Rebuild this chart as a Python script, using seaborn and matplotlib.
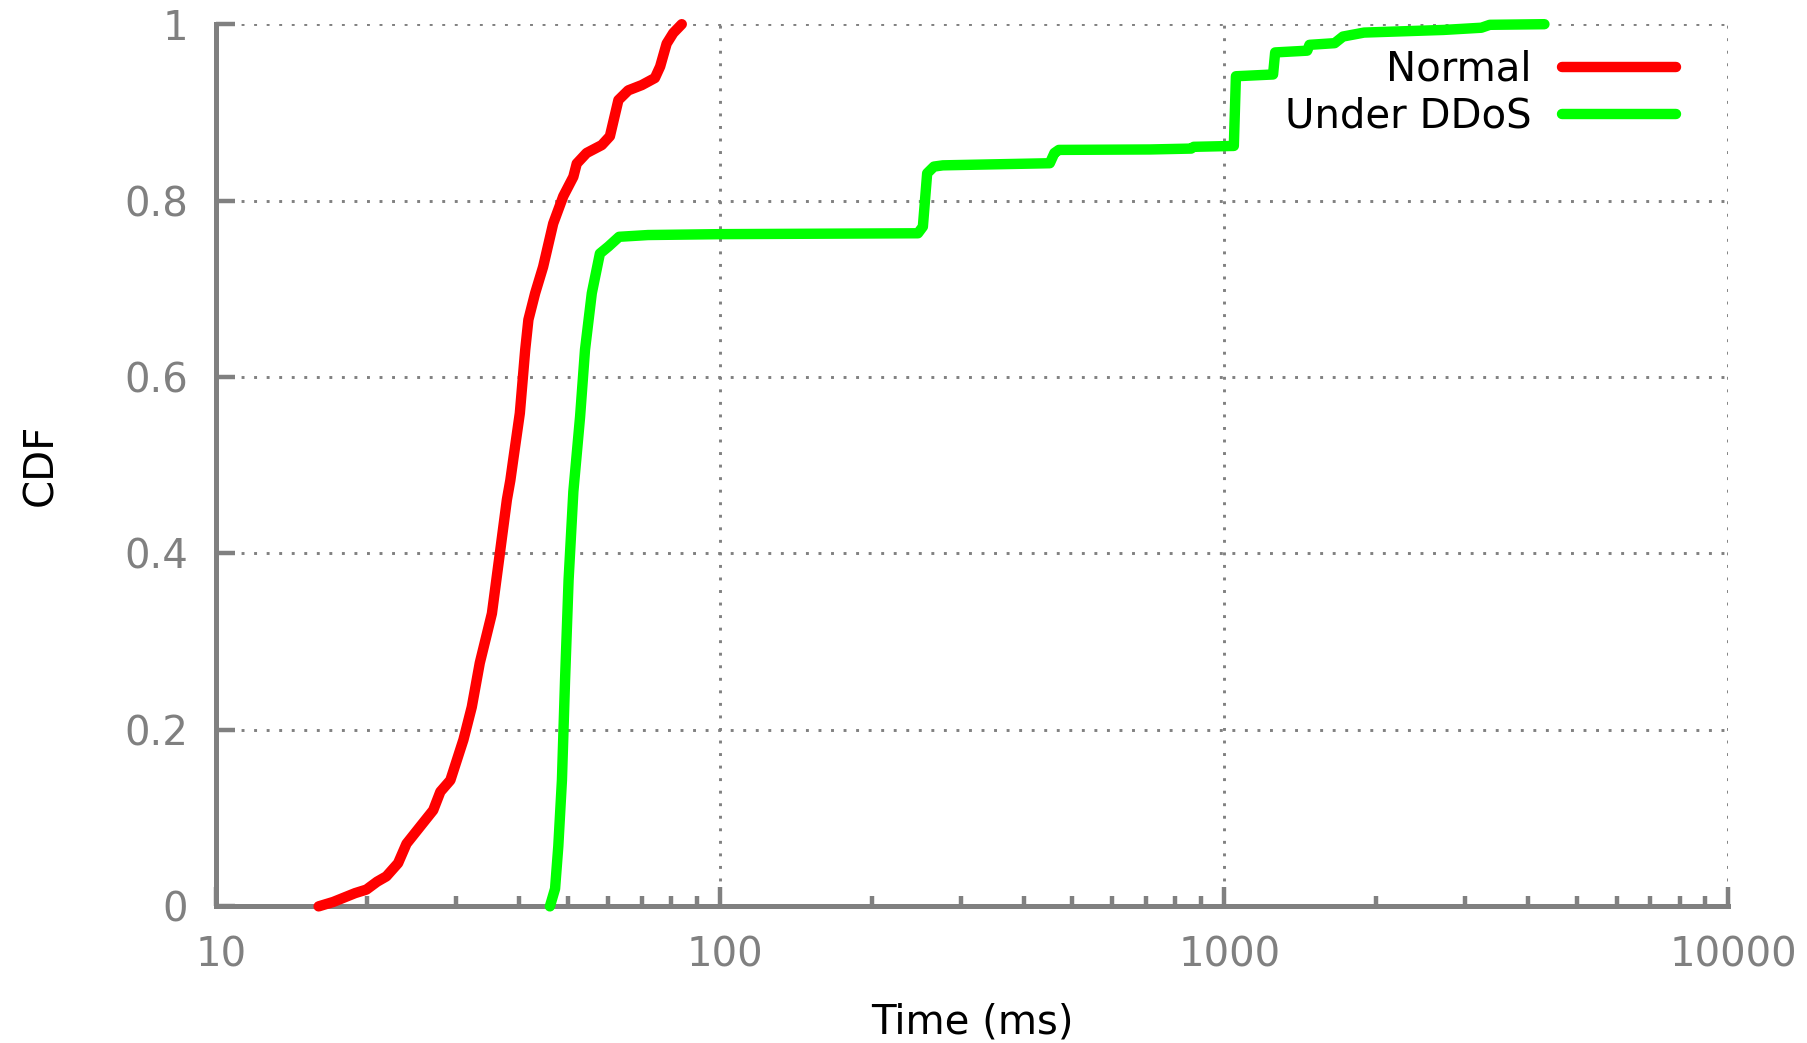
import numpy as np
import pandas as pd
import matplotlib
matplotlib.use("Agg")
import matplotlib.pyplot as plt
import matplotlib.transforms as mtransforms
from matplotlib.ticker import LogLocator, NullFormatter, FixedLocator
import seaborn as sns

# CDF of response time
normal_ms = [16.0, 17.1, 18.9, 19.9, 20.9, 21.8, 23.0, 23.9, 25.4, 27.0, 27.9,
             29.2, 31.0, 32.2, 33.4, 35.3, 36.6, 37.8, 38.4, 38.9, 40.1, 41.1,
             41.7, 43.0, 44.6, 46.7, 48.9, 51.2, 52.0, 54.4, 58.3, 60.5, 62.9,
             65.8, 70.0, 74.3, 76.1, 78.4, 80.8, 84.0]
normal_cdf = [0.0, 0.005, 0.015, 0.019, 0.028, 0.034, 0.049, 0.071, 0.090, 0.109, 0.130,
              0.143, 0.189, 0.226, 0.276, 0.332, 0.400, 0.461, 0.483, 0.506, 0.559, 0.631,
              0.665, 0.695, 0.725, 0.774, 0.805, 0.827, 0.842, 0.854, 0.863, 0.873, 0.914,
              0.925, 0.931, 0.939, 0.952, 0.978, 0.990, 1.0]

ddos_ms = [46.0, 47.1, 47.8, 48.6, 49.3, 50.1, 51.2, 52.8, 54.0, 55.7, 57.8,
           60.1, 63.1, 72.0, 100.0, 247.0, 252.6, 257.6, 265.7, 276.7, 451.0,
           460.6, 470.0, 713.0, 860.0, 870.0, 1045.0, 1055.0, 1250.0, 1262.0,
           1461.0, 1476.0, 1656.0, 1720.0, 1894.0, 2724.0, 3236.0, 3363.0, 4316.0]
ddos_cdf = [0.0, 0.020, 0.068, 0.143, 0.257, 0.370, 0.470, 0.555, 0.631, 0.695, 0.740,
            0.748, 0.759, 0.761, 0.762, 0.763, 0.7705, 0.831, 0.8386, 0.840, 0.8424,
            0.854, 0.8575, 0.858, 0.859, 0.861, 0.862, 0.941, 0.943, 0.968,
            0.970, 0.9766, 0.9785, 0.986, 0.9905, 0.9935, 0.996, 0.9993, 1.0]

series_names = ["Normal", "Under DDoS"]
series_colors = ["#ff0000", "#00ff00"]

x_ticks = [10, 100, 1000, 10000]
x_tick_labels = ["10", "100", "1000", "10000"]
y_ticks = [0, 0.2, 0.4, 0.6, 0.8, 1.0]
y_tick_labels = ["0", "0.2", "0.4", "0.6", "0.8", "1"]

df = pd.concat([
    pd.DataFrame({"time": normal_ms, "cdf": normal_cdf, "kind": series_names[0]}),
    pd.DataFrame({"time": ddos_ms, "cdf": ddos_cdf, "kind": series_names[1]}),
])

sns.set_style("white")
plt.rcParams["font.family"] = ["DejaVu Sans"]

gray = "#808080"
fig, ax = plt.subplots(figsize=(18.08, 10.43), dpi=100)
fig.subplots_adjust(left=0.1193, right=0.956, bottom=0.131, top=0.9768)

sns.lineplot(data=df, x="time", y="cdf", hue="kind", palette=series_colors,
             estimator=None, sort=False, linewidth=7.5, legend=False, ax=ax,
             solid_capstyle="round", solid_joinstyle="round", clip_on=False, zorder=5)

ax.set_xscale("log")
ax.set_xlim(10, 10000)
ax.set_ylim(0, 1)

ax.xaxis.set_major_locator(FixedLocator(x_ticks))
ax.set_xticklabels(x_tick_labels)
ax.xaxis.set_minor_locator(LogLocator(base=10, subs=np.arange(2, 10)))
ax.xaxis.set_minor_formatter(NullFormatter())
ax.set_yticks(y_ticks)
ax.set_yticklabels(y_tick_labels)

ax.tick_params(axis="both", which="both", bottom=True, left=True, top=False, right=False)
ax.tick_params(axis="both", which="major", direction="in", length=13.5, width=3.2,
               color=gray, labelcolor=gray, labelsize=29)
ax.tick_params(axis="x", which="major", pad=21)
ax.tick_params(axis="y", which="major", pad=20)
ax.tick_params(axis="x", which="minor", direction="in", length=7.5, width=3.2, color=gray)

# gnuplot puts the x labels a touch right of the tick
shift = mtransforms.ScaledTranslation(5 / 100, 0, fig.dpi_scale_trans)
for lab in ax.get_xticklabels():
    lab.set_transform(lab.get_transform() + shift)

for side in ["top", "right"]:
    ax.spines[side].set_visible(False)
for side in ["left", "bottom"]:
    ax.spines[side].set_color(gray)
    ax.spines[side].set_linewidth(3.6)

ax.grid(True, which="major", color=gray, linestyle=(0, (1, 3.3)), linewidth=2.1)

ax.set_xlabel("Time (ms)", fontsize=29, color="black")
ax.set_ylabel("CDF", fontsize=29, color="black")
ax.xaxis.set_label_coords(0.5, -0.1085)
ax.yaxis.set_label_coords(-0.1022, 0.5)

ax.legend(ax.lines[:2], series_names, loc="upper right", bbox_to_anchor=(0.965, 0.971),
          frameon=False, fontsize=29, labelcolor="black", markerfirst=False,
          handlelength=2.83, handletextpad=0.75, labelspacing=0.17,
          borderpad=0, borderaxespad=0)

plt.savefig("out.png", dpi=100)
